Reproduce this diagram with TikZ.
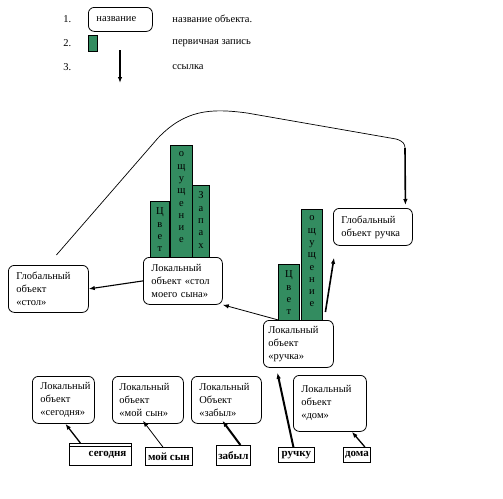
\documentclass[tikz,border=0pt]{standalone}
\usepackage{fontspec}
\setmainfont{Liberation Serif}
\usetikzlibrary{arrows.meta}
\definecolor{bargreen}{RGB}{51,140,96}
\begin{document}
\begin{tikzpicture}[x=1pt,y=-1pt,line width=0.8pt,
  obj/.style={draw, rounded corners=6pt, fill=white, align=left, font=\fontsize{10.5}{13}\selectfont, inner xsep=8pt, inner ysep=0pt, anchor=north west},
  bar/.style={draw, fill=bargreen, inner sep=0pt, anchor=north west},
  bartext/.style={anchor=north, inner sep=0pt, align=center, font=\fontsize{10.5}{12.3}\selectfont, yshift=-6.5pt},
  word/.style={draw, inner sep=0pt, anchor=north west, font=\fontsize{11}{12}\bfseries\selectfont},
  plain/.style={inner sep=0pt, anchor=west, font=\fontsize{10.5}{13}\selectfont},
  ref/.style={-{Latex[length=6pt,width=4.5pt]}},
  thickref/.style={ref, line width=1.6pt},
]
\useasboundingbox (0,0) rectangle (503,498);

% legend
\node[plain] (n1) at (63,19) {1.};
\node[plain] (n2) at (63,43) {2.};
\node[plain] (n3) at (63,67) {3.};
\node[obj, text width=48pt, minimum height=24pt] (lbox) at (88,7) {название};
\node[bar, minimum width=9pt, minimum height=16pt] (lbar) at (88,35) {};
\coordinate (la1) at (120,50);
\coordinate (la2) at (120,83);
\draw[thickref] (la1) -- (la2);
\node[plain] (t1) at (172,19) {название объекта.};
\node[plain] (t2) at (172,43) {первичная запись};
\node[plain] (t3) at (172,67) {ссылка};

% bars for "стол моего сына"
\node[bar, minimum width=19pt, minimum height=60pt] (sb1) at (150,201) {};
\node[bartext] at (sb1.north) {Ц\\в\\е\\т};
\node[bar, minimum width=22pt, minimum height=116pt] (sb2) at (170,145) {};
\node[bartext] at (sb2.north) {о\\щ\\у\\щ\\е\\н\\и\\е};
\node[bar, minimum width=17pt, minimum height=76pt] (sb3) at (192,185) {};
\node[bartext] at (sb3.north) {З\\а\\п\\а\\х};

% bars for "ручка"
\node[bar, minimum width=21pt, minimum height=60pt] (rb1) at (278,264) {};
\node[bartext] at (rb1.north) {Ц\\в\\е\\т};
\node[bar, minimum width=21pt, minimum height=115pt] (rb2) at (301,209) {};
\node[bartext] at (rb2.north) {о\\щ\\у\\щ\\е\\н\\и\\е};

% objects
\node[obj, text width=63pt, minimum height=47pt] (stolL) at (143,257) {Локальный\\объект «стол\\моего сына»};
\node[obj, text width=64pt, minimum height=47pt] (globS) at (8,265) {Глобальный\\объект\\«стол»};
\node[obj, minimum height=47pt, inner xsep=5pt, text width=60pt] (ruchL) at (263,320) {Локальный\\объект\\«ручка»};
\node[obj, text width=63pt, minimum height=37pt] (globR) at (333,208) {Глобальный\\объект ручка};
\node[obj, text width=46pt, minimum height=47pt] (segO) at (32,376) {Локальный\\объект\\«сегодня»};
\node[obj, minimum height=47pt, inner xsep=7pt, text width=57pt] (sonO) at (112,376) {Локальный\\объект\\«мой сын»};
\node[obj, text width=54pt, minimum height=47pt] (zabO) at (191,376) {Локальный\\Объект\\«забыл»};
\node[obj, text width=57pt, minimum height=56pt] (domO) at (293,375) {Локальный\\объект\\«дом»};

% words
\node[word, minimum width=62pt, minimum height=22pt, text width=52pt, inner xsep=5pt, align=right] (segW) at (69,443) {сегодня};
\draw ([yshift=-3pt]segW.north west) -- ([yshift=-3pt]segW.north east);
\node[word, minimum width=47pt, minimum height=18pt] (sonW) at (145,447) {мой сын};
\node[word, minimum width=34pt, minimum height=20pt] (zabW) at (216,445) {забыл};
\node[word, minimum width=36pt, minimum height=15pt] (ruchW) at (278,447) {ручку};
\node[word, minimum width=27pt, minimum height=15pt] (domW) at (343,447) {дома};

% connectors
\draw[ref, line width=1.3pt] ([xshift=-20pt]segW.north) -- ([xshift=2pt]segO.south);
\draw[ref] ([xshift=-6pt]sonW.north) -- ([xshift=-5pt, yshift=3pt]sonO.south);
\draw[thickref, line width=2pt] ([xshift=7pt]zabW.north) -- ([xshift=-4pt, yshift=3pt]zabO.south);
\draw[thickref, line width=2pt] ([xshift=-3pt]ruchW.north) -- ([xshift=-21pt, yshift=-5pt]ruchL.south);
\draw[ref, line width=1.3pt] ([xshift=8pt]domW.north) -- ([xshift=22pt]domO.south);
\draw[ref, line width=1.1pt] (stolL.west) -- (globS.east);
\draw[ref] ([xshift=-20pt]ruchL.north) -- (stolL.south east);
\draw[thickref] ([xshift=27pt, yshift=8pt]ruchL.north) -- ([xshift=1pt, yshift=-12pt]globR.south west);
\coordinate (cdown) at (405,148);
\draw[line width=0.7pt] ([xshift=8pt, yshift=10pt]globS.north) -- (158,138)
  .. controls (185,110) and (210,108) .. (247,113) -- (396,139)
  .. controls (403,141) and (405,144) .. (cdown);
\draw[thickref] (cdown) -- ([xshift=32.5pt, yshift=3pt]globR.north);
\end{tikzpicture}
\end{document}
